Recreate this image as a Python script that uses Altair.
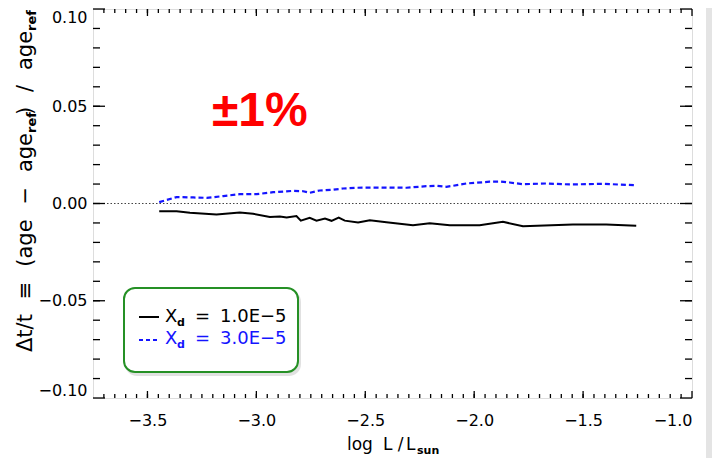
import altair as alt
import pandas as pd

# ---------------- data ----------------
x_black = [-3.446, -3.366, -3.305, -3.183, -3.076, -3.015, -2.938, -2.892, -2.861,
           -2.816, -2.796, -2.755, -2.724, -2.685, -2.655, -2.622, -2.594, -2.533,
           -2.479, -2.403, -2.281, -2.204, -2.112, -1.975, -1.868, -1.776, -1.547,
           -1.394, -1.256]
y_black = [-0.0040, -0.0040, -0.0048, -0.0057, -0.0046, -0.0053, -0.0069, -0.0067, -0.0072,
           -0.0064, -0.0088, -0.0074, -0.0088, -0.0077, -0.0089, -0.0072, -0.0088, -0.0098,
           -0.0086, -0.0096, -0.0112, -0.0101, -0.0112, -0.0112, -0.0094, -0.0117, -0.0108,
           -0.0108, -0.0115]

x_blue = [-3.446, -3.366, -3.290, -3.228, -3.152, -3.076, -2.999, -2.923, -2.831, -2.785,
          -2.755, -2.709, -2.648, -2.602, -2.540, -2.464, -2.311, -2.220, -2.174, -2.128,
          -2.097, -2.036, -1.929, -1.883, -1.837, -1.776, -1.669, -1.562, -1.409, -1.302,
          -1.256]
y_blue = [0.0007, 0.0033, 0.0031, 0.0029, 0.0038, 0.0048, 0.0048, 0.0058, 0.0065, 0.0063,
          0.0055, 0.0067, 0.0071, 0.0077, 0.0081, 0.0082, 0.0081, 0.0089, 0.0091, 0.0086,
          0.0091, 0.0103, 0.0112, 0.0113, 0.0108, 0.0099, 0.0103, 0.0098, 0.0101, 0.0096,
          0.0094]

x_major = [-3.5, -3.0, -2.5, -2.0, -1.5, -1.0]
y_major = [-0.10, -0.05, 0.00, 0.05, 0.10]
x_minor = [round(-3.70 + 0.05 * i, 2) for i in range(54)]
y_minor = [round(-0.09 + 0.01 * i, 2) for i in range(19)]

legend_labels = ["1.0E\u22125", "3.0E\u22125"]
series_colors = ["black", "#1414ff"]
annotation_text = "\u00b11%"

# ---------------- layout ----------------
W, H = 599, 389
X0, Y0 = 93, 9          # page position of plot area's top-left corner
FONT = "DejaVu Sans"

xs = alt.Scale(domain=[-3.75, -1.0], nice=False, zero=False)
ys = alt.Scale(domain=[-0.10, 0.10], nice=False, zero=False)
ax_x = alt.Axis(values=x_major, format=".1f", title=None, labelPadding=14, ticks=False,
                tickSize=0, domain=False, grid=False, labelFont=FONT, labelFontSize=16,
                labelColor="black")
ax_y = alt.Axis(values=y_major, format=".2f", title=None, labelPadding=6, labelFlush=True,
                ticks=False, tickSize=0, domain=False, grid=False, labelFont=FONT,
                labelFontSize=16, labelColor="black")
one = alt.Data(values=[{}])


def X(field):
    return alt.X(field, scale=xs, axis=ax_x)


def Y(field):
    return alt.Y(field, scale=ys, axis=ax_y)


def px(v):
    return alt.value(v - X0)


def py(v):
    return alt.value(v - Y0)


df_black = pd.DataFrame({"x": x_black, "y": y_black})
df_blue = pd.DataFrame({"x": x_blue, "y": y_blue})

line_black = alt.Chart(df_black).mark_line(color=series_colors[0], strokeWidth=2).encode(
    x=X("x:Q"), y=Y("y:Q"))
line_blue = alt.Chart(df_blue).mark_line(color=series_colors[1], strokeWidth=2.2,
                                         strokeDash=[5, 3]).encode(
    x=X("x:Q"), y=Y("y:Q"))

zero_line = alt.Chart(pd.DataFrame({"y": [0.0]})).mark_rule(
    color="#444444", strokeWidth=1.2, strokeDash=[1.5, 2]).encode(
    y=Y("y:Q"), x=alt.value(0), x2=alt.value(W))


def xticks(vals, length, top):
    d = pd.DataFrame({"x": vals})
    y1, y2 = (0, length) if top else (H, H - length)
    return alt.Chart(d).mark_rule(color="black", strokeWidth=1.3).encode(
        x=X("x:Q"), y=alt.value(y1), y2=alt.value(y2))


def yticks(vals, length, right):
    d = pd.DataFrame({"y": vals})
    x1, x2 = (W, W - length) if right else (0, length)
    return alt.Chart(d).mark_rule(color="black", strokeWidth=1.3).encode(
        y=Y("y:Q"), x=alt.value(x1), x2=alt.value(x2))


ticks = [
    xticks(x_major, 7, False), xticks(x_minor, 4, False),
    xticks(x_major, 7, True), xticks(x_minor, 4, True),
    yticks(y_major, 12, False), yticks(y_minor, 7, False),
    yticks(y_major, 12, True), yticks(y_minor, 7, True),
]

pm = alt.Chart(pd.DataFrame({"x": [-2.984], "y": [0.0469], "t": [annotation_text]})).mark_text(
    color="#ff0000", font="Liberation Sans", fontWeight="bold", fontSize=48,
    align="center", baseline="middle").encode(x=X("x:Q"), y=Y("y:Q"), text="t:N")


def label(text, x, y, size=17, color="black", align="left", angle=None,
          baseline="alphabetic", weight="normal"):
    kw = dict(text=text, fontSize=size, font=FONT, color=color, align=align,
              baseline=baseline, fontWeight=weight)
    if angle is not None:
        kw["angle"] = angle
    return alt.Chart(one).mark_text(**kw).encode(x=px(x), y=py(y))


# ---- rotated y-axis title with subscripts ----
WID = {"\u0394": 0.684, "t": 0.392, "/": 0.337, "\u2261": 0.838, "(": 0.390, ")": 0.390,
       "a": 0.613, "g": 0.635, "e": 0.615, "\u2212": 0.838, "r": 0.411, "f": 0.352}
MS, SS = 21, 13
ytokens = [("\u0394t/t", MS, False, True), ("\u2261", MS, False, True), ("(age", MS, False, True),
           ("\u2212", MS, False, True), ("age", MS, False, True), ("ref", SS, True, False),
           (")", MS, False, False), ("/", MS, False, True), ("age", MS, False, True),
           ("ref", SS, True, False)]
y_start, y_end = 352, 13
widths = [sum(WID[c] for c in t) * s for t, s, _, _ in ytokens]
n_gaps = sum(1 for t in ytokens[1:] if t[3])
gap = ((y_start - y_end) - sum(widths)) / n_gaps
ytitle = []
pos = y_start
for i, ((t, s, sub, g), w) in enumerate(zip(ytokens, widths)):
    if i > 0 and g:
        pos -= gap
    ytitle.append(label(t, 36 if sub else 32, pos, size=s, angle=270,
                        weight="bold" if sub else "normal"))
    pos -= w

# ---- x-axis title ----
xtitle = [label("log", 347, 450, 17), label("L", 383, 450, 17),
          label("/", 400.5, 450, 17, align="center"),
          label("L", 406, 450, 17), label("sun", 417, 454, 11, weight="bold")]

# ---- legend box ----
shadow = alt.Chart(one).mark_rect(fill="#bdbdbd", opacity=0.45, cornerRadius=12).encode(
    x=px(125), x2=px(301), y=py(290), y2=py(376))
box = alt.Chart(one).mark_rect(fill="white", stroke="#259025", strokeWidth=2,
                               cornerRadius=11).encode(
    x=px(124), x2=px(298), y=py(288), y2=py(372))
samp1 = alt.Chart(one).mark_rule(color=series_colors[0], strokeWidth=2).encode(
    x=px(139), x2=px(159), y=py(317))
samp2 = alt.Chart(one).mark_rule(color=series_colors[1], strokeWidth=2,
                                 strokeDash=[4, 3]).encode(
    x=px(139), x2=px(160), y=py(340))
legend_text = []
for (lbl, col, base) in [(legend_labels[0], series_colors[0], 322),
                         (legend_labels[1], series_colors[1], 344)]:
    legend_text += [label("X", 165, base, 18, col),
                    label("d", 177, base + 4, 11, col, weight="bold"),
                    label("=", 195, base, 18, col), label(lbl, 220, base, 18, col)]

strip = alt.Chart(one).mark_rect(fill="#e4e4e4").encode(
    x=px(706), x2=px(712), y=py(8), y2=py(458))

chart = alt.layer(
    strip, line_black, line_blue, zero_line, *ticks, pm, shadow, box, samp1, samp2,
    *legend_text, *ytitle, *xtitle,
).properties(
    width=W, height=H,
    autosize=alt.AutoSizeParams(type="none"),
    padding={"left": 85, "top": 1, "right": 20, "bottom": 60},
).configure_view(
    stroke="black", strokeWidth=1.6
).configure(background="white")

chart.save("out.html", embed_options={"renderer": "svg", "actions": False})
